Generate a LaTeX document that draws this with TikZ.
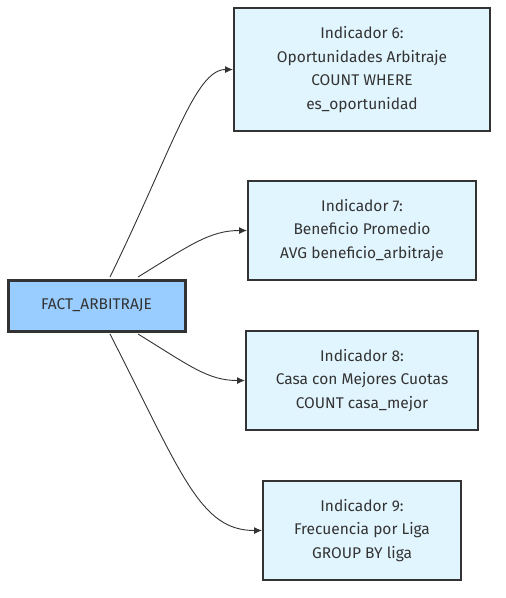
\documentclass[tikz,border=0pt]{standalone}
\usepackage{fontspec}
\setmainfont{Fira Sans}
\usetikzlibrary{arrows.meta,calc}
\definecolor{edgec}{HTML}{333333}
\definecolor{factfill}{HTML}{99CCFF}
\definecolor{indfill}{HTML}{E1F5FE}
\begin{document}
\begin{tikzpicture}[x=1pt,y=-1pt,
  every node/.style={font=\fontsize{15.5}{23.5}\selectfont, text=edgec, align=center, inner sep=0pt},
  factbox/.style={draw=edgec, line width=3pt, fill=factfill},
  indbox/.style={draw=edgec, line width=2pt, fill=indfill},
  conn/.style={draw=edgec, line width=0.9pt, -{Latex[length=8pt,width=7pt]}}]
\useasboundingbox (0,0) rectangle (506,598);
\node[factbox, minimum width=177pt, minimum height=51pt] (fact) at (96.5,305.5) {FACT\_ARBITRAJE};
\node[indbox, minimum width=256pt, minimum height=123pt] (b6) at (362,69.5) {Indicador 6:\\Oportunidades Arbitraje\\COUNT WHERE\\es\_oportunidad};
\node[indbox, minimum width=228pt, minimum height=99pt] (b7) at (362,230.5) {Indicador 7:\\Beneficio Promedio\\AVG beneficio\_arbitraje};
\node[indbox, minimum width=232pt, minimum height=99pt] (b8) at (362,380.5) {Indicador 8:\\Casa con Mejores Cuotas\\COUNT casa\_mejor};
\node[indbox, minimum width=198pt, minimum height=99pt] (b9) at (362,530.5) {Indicador 9:\\Frecuencia por Liga\\GROUP BY liga};
\draw[conn] ($(fact.north)+(13.5,-1.5)$) .. controls (172,150) and (195,69.5) .. (b6.west);
\draw[conn] ($(fact.north)+(41.5,-1.5)$) .. controls (190,245) and (210,230.5) .. (b7.west);
\draw[conn] ($(fact.south)+(41.5,1.5)$) .. controls (190,366) and (208,380.5) .. (b8.west);
\draw[conn] ($(fact.south)+(13.5,1.5)$) .. controls (182,475) and (200,530.5) .. (b9.west);
\end{tikzpicture}
\end{document}
